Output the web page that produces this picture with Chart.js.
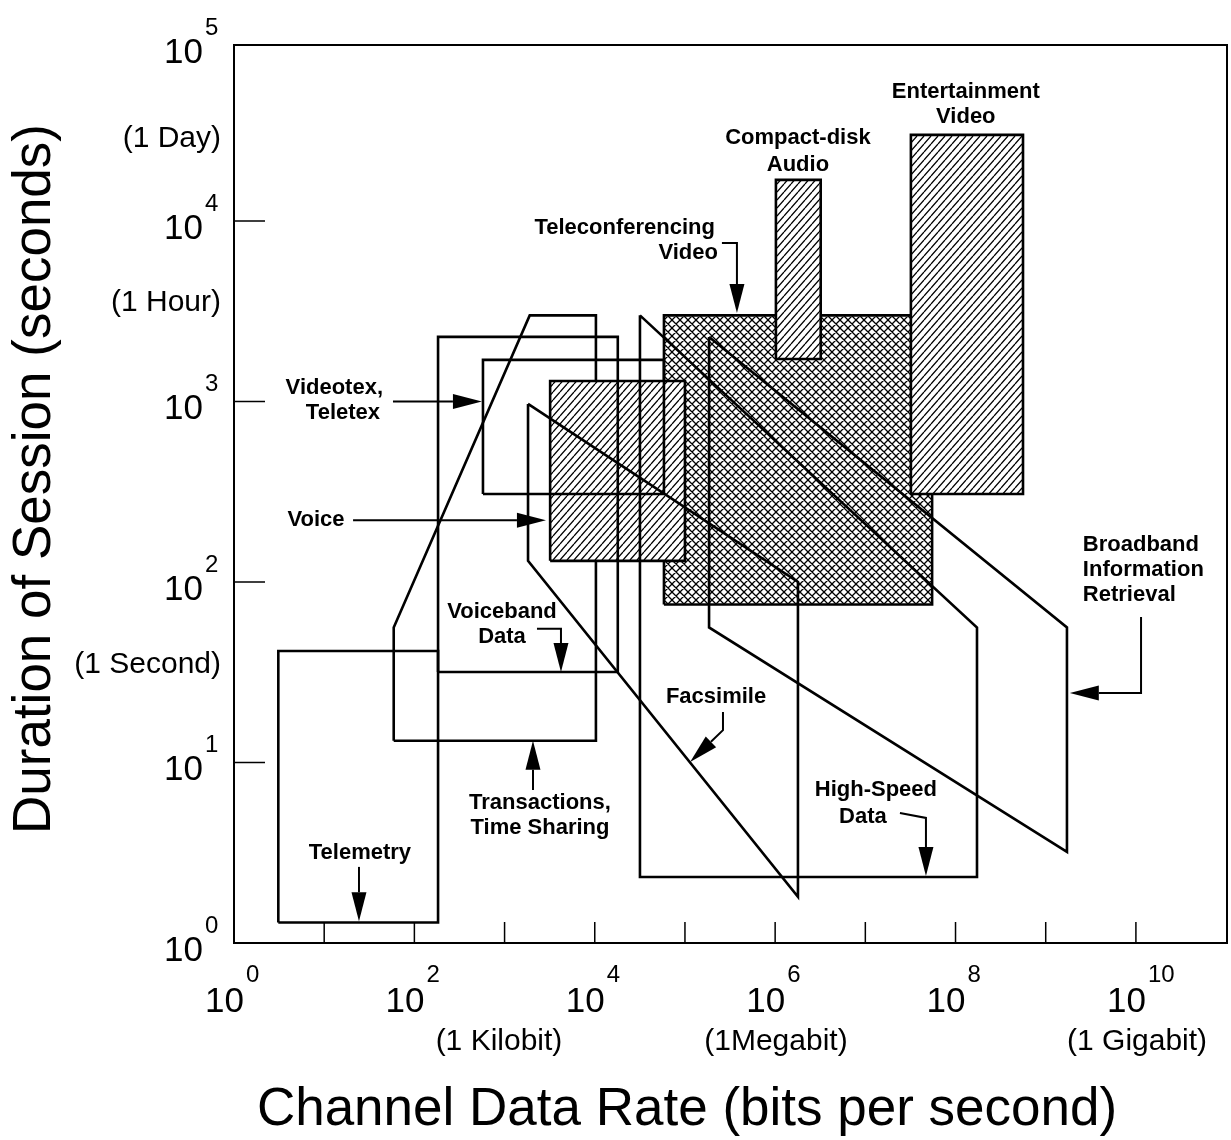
<!DOCTYPE html>
<html>
<head>
<meta charset="utf-8">
<title>Channel data rate vs duration of session</title>
<script src="https://cdn.jsdelivr.net/npm/chart.js@4.4.1/dist/chart.umd.min.js"></script>
<style>
  html, body { margin: 0; padding: 0; background: #fff; }
  #wrap { width: 1231px; height: 1140px; position: relative; }
</style>
</head>
<body>
<div id="wrap"><canvas id="chart"></canvas></div>
<script>
// axis ticks (powers of ten) and the extra wording under / beside them
const xTickExponents = [0, 2, 4, 6, 8, 10];
const yTickExponents = [0, 1, 2, 3, 4, 5];
const xNoteLabels = ['(1 Kilobit)', '(1Megabit)', '(1 Gigabit)'];
const xNoteValues = [867, 1.02e6, 1.03e10];
const yNoteLabels = ['(1 Day)', '(1 Hour)', '(1 Second)'];
const yNoteValues = [28450, 3515, 34.7];

// corners of each service region: [bits per second, seconds]
const telemetry = [[3.1, 1.3], [183, 1.3], [183, 41.5], [3.1, 41.5]];
const transactions = [[59, 13.2], [59, 56], [1900, 3000], [10300, 3000], [10300, 13.2]];
const voiceband = [[183, 31.7], [18000, 31.7], [18000, 2280], [183, 2280]];
const videotex = [[576, 307], [58500, 307], [58500, 1700], [576, 1700]];
const voice = [[3200, 131], [100000, 131], [100000, 1300], [3200, 1300]];
const facsimile = [[1820, 970], [1.79e6, 100], [1.79e6, 1.8], [1820, 131]];
const teleconferencing = [[58500, 75], [5.5e7, 75], [5.5e7, 3000], [58500, 3000]];
const compactDisk = [[1.02e6, 1720], [3.2e6, 1720], [3.2e6, 16900], [1.02e6, 16900]];
const entertainment = [[3.2e7, 307], [5.6e8, 307], [5.6e8, 30000], [3.2e7, 30000]];
const highSpeed = [[31700, 3000], [1.73e8, 56], [1.73e8, 2.32], [31700, 2.32]];
const broadband = [[1.85e5, 2280], [1.72e9, 56], [1.72e9, 3.2], [1.85e5, 56]];

// callout text: [text, x, y, align]
const noteTexts = [
  ['Telemetry', 24.9, 3.15, 'center'],
  ['Transactions,', 2468, 5.97, 'center'],
  ['Time Sharing', 2468, 4.34, 'center'],
  ['Voiceband', 936, 68.2, 'center'],
  ['Data', 936, 49.6, 'center'],
  ['Videotex,', 44.9, 1188, 'right'],
  ['Teletex', 41.6, 863, 'right'],
  ['Voice', 8.11, 220, 'center'],
  ['Teleconferencing', 2.15e5, 9146, 'right'],
  ['Video', 2.32e5, 6650, 'right'],
  ['Compact-disk', 1.79e6, 28840, 'center'],
  ['Audio', 1.79e6, 20420, 'center'],
  ['Entertainment', 1.30e8, 51850, 'center'],
  ['Video', 1.30e8, 37700, 'center'],
  ['Facsimile', 2.21e5, 23.1, 'center'],
  ['High-Speed', 1.31e7, 7.04, 'center'],
  ['Data', 9.4e6, 4.99, 'center'],
  ['Broadband', 2.58e9, 160, 'left'],
  ['Information', 2.58e9, 116.5, 'left'],
  ['Retrieval', 2.58e9, 84.7, 'left']
];
// callout arrows, the head sits on the last point
const noteArrows = [
  [[24.3, 2.64], [24.3, 1.32]],
  [[2065, 7.04], [2065, 13.2]],
  [[2287, 55], [4220, 55], [4220, 31.7]],
  [[57.9, 1000], [561, 1000]],
  [[20.9, 220], [2877, 220]],
  [[2.57e5, 7550], [3.77e5, 7550], [3.77e5, 3090]],
  [[2.64e5, 19.05], [2.64e5, 15.1], [1.14e5, 10.07]],
  [[2.42e7, 5.25], [4.7e7, 4.93], [4.7e7, 2.35]],
  [[1.14e10, 64], [1.14e10, 24.3], [1.85e9, 24.3]]
];

const FONT = "'Liberation Sans', Arial, Helvetica, sans-serif";

function hatch(w, h, cross) {
  const c = document.createElement('canvas');
  c.width = w; c.height = h;
  const g = c.getContext('2d');
  g.fillStyle = '#fff';
  g.fillRect(0, 0, w, h);
  g.strokeStyle = '#000';
  g.lineWidth = 1.3;
  g.beginPath();
  for (let k = 0; k <= 2; k++) {
    g.moveTo(k * w, 0); g.lineTo((k - 1) * w, h);
    if (cross) { g.moveTo((k - 1) * w, 0); g.lineTo(k * w, h); }
  }
  g.stroke();
  return g.createPattern(c, 'repeat');
}
const diagHatch = hatch(7, 8, false);
const crossHatch = hatch(8, 8, true);

// listed bottom to top
const regions = [
  [telemetry, null],
  [transactions, null],
  [teleconferencing, crossHatch],
  [compactDisk, diagHatch],
  [entertainment, diagHatch],
  [voice, diagHatch],
  [voiceband, null],
  [videotex, null],
  [facsimile, null],
  [highSpeed, null],
  [broadband, null]
];

const datasets = regions.map(([corners, pattern], i) => ({
  data: corners.concat([corners[0]]).map(([x, y]) => ({x, y})),
  showLine: true,
  borderColor: '#000',
  borderWidth: 2.6,
  borderJoinStyle: 'miter',
  backgroundColor: pattern || 'rgba(0,0,0,0)',
  fill: pattern ? 'shape' : false,
  pointRadius: 0,
  pointHoverRadius: 0,
  order: -i
}));

function power(ctx, exp, rightX, baseY, supX, supY) {
  ctx.font = '35px ' + FONT;
  ctx.textAlign = 'right';
  ctx.textBaseline = 'alphabetic';
  ctx.fillText('10', rightX, baseY);
  ctx.font = '24px ' + FONT;
  ctx.textAlign = 'left';
  ctx.fillText(String(exp), supX, supY);
}

const decor = {
  id: 'decor',
  afterDraw(chart) {
    const {ctx, chartArea: a, scales: {x, y}} = chart;
    const px = v => x.getPixelForValue(v);
    const py = v => y.getPixelForValue(v);
    ctx.save();
    ctx.strokeStyle = '#000';
    ctx.fillStyle = '#000';

    // frame and tick marks
    ctx.lineWidth = 2;
    ctx.strokeRect(a.left, a.top, a.right - a.left, a.bottom - a.top);
    ctx.lineWidth = 1.5;
    ctx.beginPath();
    for (let e = 1; e <= 10; e++) {
      ctx.moveTo(px(10 ** e), a.bottom);
      ctx.lineTo(px(10 ** e), a.bottom - 21);
    }
    for (let e = 1; e <= 4; e++) {
      ctx.moveTo(a.left, py(10 ** e));
      ctx.lineTo(a.left + 31, py(10 ** e));
    }
    ctx.stroke();

    // tick labels
    xTickExponents.forEach(e => {
      const p = px(10 ** e);
      power(ctx, e, p + 10, a.bottom + 69, p + 12, a.bottom + 39);
    });
    yTickExponents.forEach(e => {
      const p = Math.max(a.top, py(10 ** e));
      power(ctx, e, a.left - 31, p + 18, a.left - 29, p - 10);
    });

    ctx.font = '30px ' + FONT;
    ctx.textBaseline = 'middle';
    ctx.textAlign = 'center';
    xNoteLabels.forEach((t, i) => ctx.fillText(t, px(xNoteValues[i]), a.bottom + 99));
    ctx.textAlign = 'right';
    yNoteLabels.forEach((t, i) => ctx.fillText(t, a.left - 13, py(yNoteValues[i])));

    // axis titles
    ctx.font = '53px ' + FONT;
    ctx.textBaseline = 'alphabetic';
    ctx.textAlign = 'center';
    ctx.fillText('Channel Data Rate (bits per second)', 687, a.bottom + 182);
    ctx.save();
    ctx.translate(50, 479);
    ctx.rotate(-Math.PI / 2);
    ctx.fillText('Duration of Session (seconds)', 0, 0);
    ctx.restore();

    // callouts
    ctx.font = 'bold 22px ' + FONT;
    ctx.textBaseline = 'middle';
    noteTexts.forEach(([t, vx, vy, al]) => {
      ctx.textAlign = al;
      ctx.fillText(t, px(vx), py(vy));
    });
    ctx.lineWidth = 2;
    noteArrows.forEach(pts => {
      const p = pts.map(([vx, vy]) => [px(vx), py(vy)]);
      const [x1, y1] = p[p.length - 1];
      const [x0, y0] = p[p.length - 2];
      const len = Math.hypot(x1 - x0, y1 - y0);
      const ux = (x1 - x0) / len, uy = (y1 - y0) / len;
      const hl = 29, hw = 7.5;
      ctx.beginPath();
      ctx.moveTo(p[0][0], p[0][1]);
      for (let i = 1; i < p.length - 1; i++) ctx.lineTo(p[i][0], p[i][1]);
      ctx.lineTo(x1 - ux * hl, y1 - uy * hl);
      ctx.stroke();
      ctx.beginPath();
      ctx.moveTo(x1, y1);
      ctx.lineTo(x1 - ux * hl - uy * hw, y1 - uy * hl + ux * hw);
      ctx.lineTo(x1 - ux * hl + uy * hw, y1 - uy * hl - ux * hw);
      ctx.closePath();
      ctx.fill();
    });
    ctx.restore();
  }
};

new Chart(document.getElementById('chart'), {
  type: 'scatter',
  data: { datasets },
  options: {
    responsive: true,
    maintainAspectRatio: false,
    animation: false,
    events: [],
    layout: { padding: { top: 45, right: 4, left: 0, bottom: 0 } },
    plugins: { legend: { display: false }, tooltip: { enabled: false } },
    elements: { line: { tension: 0 } },
    scales: {
      x: {
        type: 'logarithmic', min: 1, max: 10 ** 11.01,
        grid: { display: false }, border: { display: false }, ticks: { display: false },
        afterFit: s => { s.height = 197; }
      },
      y: {
        type: 'logarithmic', min: 1, max: 10 ** 4.975,
        grid: { display: false }, border: { display: false }, ticks: { display: false },
        afterFit: s => { s.width = 234; }
      }
    }
  },
  plugins: [decor]
});
</script>
</body>
</html>
